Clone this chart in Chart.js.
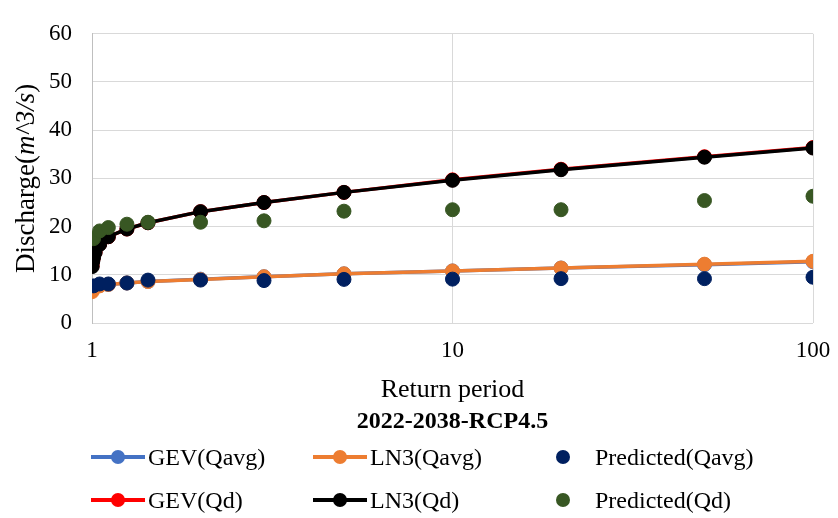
<!DOCTYPE html>
<html>
<head>
<meta charset="utf-8">
<script src="https://cdn.jsdelivr.net/npm/chart.js@4.4.1/dist/chart.umd.min.js"></script>
<style>
    html, body { margin: 0; padding: 0; background: #fff; }
    #wrap { position: relative; width: 838px; height: 518px; }
    #legend { position: absolute; left: 0; top: 0; width: 838px; height: 518px; pointer-events: none;
        font-family: 'Liberation Serif', 'Times New Roman', serif; font-size: 24px; color: #000; }
    .item { position: absolute; height: 30px; display: flex; align-items: center; white-space: nowrap; }
    .sym { position: relative; height: 30px; }
    .sym .ln { position: absolute; left: 0; right: 0; top: 13px; height: 4px; }
    .sym .dot { position: absolute; top: 8px; width: 14px; height: 14px; border-radius: 50%; }
</style>
</head>
<body>
<div id="wrap">
    <canvas id="myChart" width="838" height="518"></canvas>
    <div id="legend"></div>
</div>
<script>
const family = "'Liberation Serif', 'Times New Roman', serif";

// return periods
const rpCurve = [1.001, 1.005, 1.01, 1.02, 1.05, 1.11, 1.25, 1.43, 2, 3, 5, 10, 20, 50, 100];
const rpPred = [1.01, 1.05, 1.11, 1.25, 1.43, 2, 3, 5, 10, 20, 50, 100];

// discharge values
const gevQavg = [6.8, 7.1, 7.3, 7.5, 7.8, 8.0, 8.3, 8.6, 9.1, 9.6, 10.2, 10.8, 11.4, 12.1, 12.7];
const ln3Qavg = [6.5, 6.9, 7.2, 7.4, 7.7, 8.0, 8.3, 8.6, 9.0, 9.6, 10.2, 10.8, 11.4, 12.2, 12.8];
const predQavg = [7.7, 8.1, 8.1, 8.3, 8.9, 8.9, 8.8, 9.05, 9.1, 9.2, 9.2, 9.5];
const gevQd = [11.9, 13.0, 13.7, 14.7, 16.4, 17.9, 19.5, 20.8, 23.1, 25.0, 27.1, 29.7, 31.9, 34.5, 36.4];
const ln3Qd = [11.7, 12.8, 13.6, 14.6, 16.3, 17.9, 19.5, 20.8, 23.1, 25.0, 27.1, 29.6, 31.8, 34.4, 36.3];
const predQd = [17.5, 19.1, 19.8, 20.5, 20.9, 20.9, 21.2, 23.2, 23.5, 23.5, 25.4, 26.3];

const xTicks = [1, 10, 100];
const chartTitle = '2022-2038-RCP4.5';

function pts(xs, ys) {
    return xs.map(function (x, k) { return { x: x, y: ys[k] }; });
}

function curve(label, xs, ys, color, order) {
    return {
        type: 'line', label: label, data: pts(xs, ys), order: order,
        borderColor: color, backgroundColor: color, borderWidth: 3.5,
        pointRadius: 7, pointBorderWidth: 1, pointBackgroundColor: color, pointBorderColor: color,
        tension: 0
    };
}

function points(label, xs, ys, color, order) {
    return {
        type: 'scatter', label: label, data: pts(xs, ys), order: order, showLine: false,
        borderColor: color, backgroundColor: color,
        pointRadius: 7, pointBorderWidth: 1, pointBackgroundColor: color, pointBorderColor: color
    };
}

// legend order as in the picture, draw order via 'order'
const datasets = [
    curve('GEV(Qavg)', rpCurve, gevQavg, '#4472C4', 6),
    curve('LN3(Qavg)', rpCurve, ln3Qavg, '#ED7D31', 5),
    points('Predicted(Qavg)', rpPred, predQavg, '#002060', 2),
    curve('GEV(Qd)', rpCurve, gevQd, '#FF0000', 4),
    curve('LN3(Qd)', rpCurve, ln3Qd, '#000000', 3),
    points('Predicted(Qd)', rpPred, predQd, '#385723', 1)
];

// y title with italic unit part, and the bold title centred under the plot
const extraText = {
    id: 'extraText',
    afterDraw(chart) {
        const ctx = chart.ctx;
        const a = chart.chartArea;
        const parts = [['Discharge(', ''], ['m^3/s', 'italic '], [')', '']];
        ctx.save();
        ctx.translate(27, (a.top + a.bottom) / 2);
        ctx.rotate(-Math.PI / 2);
        ctx.textBaseline = 'middle';
        ctx.fillStyle = '#000';
        let total = 0;
        for (let p of parts) {
            ctx.font = p[1] + '27px ' + family;
            total += ctx.measureText(p[0]).width;
        }
        let x = -total / 2;
        for (let p of parts) {
            ctx.font = p[1] + '27px ' + family;
            ctx.fillText(p[0], x, 0);
            x += ctx.measureText(p[0]).width;
        }
        ctx.restore();

        ctx.save();
        ctx.font = 'bold 24px ' + family;
        ctx.fillStyle = '#000';
        ctx.textAlign = 'center';
        ctx.textBaseline = 'middle';
        ctx.fillText(chartTitle, (a.left + a.right) / 2, 422);
        ctx.restore();
    }
};

const ctx = document.getElementById('myChart').getContext('2d');
const myChart = new Chart(ctx, {
    type: 'line',
    data: { datasets: datasets },
    options: {
        responsive: false,
        animation: false,
        layout: { padding: { top: 16, right: 25, bottom: 109, left: 0 } },
        plugins: {
            legend: { display: false },
            tooltip: { enabled: false },
            title: { display: false }
        },
        scales: {
            x: {
                type: 'logarithmic', min: 1, max: 100,
                afterBuildTicks: function (s) { s.ticks = xTicks.map(function (v) { return { value: v }; }); },
                afterFit: function (s) { s.height = 86; s.paddingLeft = 0; s.paddingRight = 0; },
                grid: { color: '#d9d9d9', drawTicks: false },
                border: { display: false },
                ticks: {
                    padding: 14, color: '#000', maxRotation: 0, autoSkip: false,
                    font: { family: family, size: 23 },
                    callback: function (v) { return String(v); }
                },
                title: {
                    display: true, text: 'Return period', color: '#000',
                    font: { family: family, size: 26 }, padding: { top: 0, bottom: 3 }
                }
            },
            y: {
                min: 0, max: 60,
                afterFit: function (s) { s.width = 92; },
                grid: { color: '#d9d9d9', drawTicks: false },
                border: { color: '#bfbfbf' },
                ticks: { stepSize: 10, padding: 20, color: '#000', font: { family: family, size: 23 } }
            }
        }
    },
    plugins: [extraText]
});

// legend laid out in three columns, two rows
const legendCols = [91, 313, 549];
const legendRows = [457, 500];
const legend = document.getElementById('legend');
datasets.forEach(function (ds, k) {
    const item = document.createElement('div');
    item.className = 'item';
    item.style.left = legendCols[k % 3] + 'px';
    item.style.top = (legendRows[Math.floor(k / 3)] - 15) + 'px';
    const sym = document.createElement('div');
    sym.className = 'sym';
    const dot = document.createElement('div');
    dot.className = 'dot';
    dot.style.background = ds.borderColor;
    if (ds.type === 'line') {
        sym.style.width = '54px';
        const ln = document.createElement('div');
        ln.className = 'ln';
        ln.style.background = ds.borderColor;
        sym.appendChild(ln);
        dot.style.left = '20px';
    } else {
        sym.style.width = '28px';
        sym.style.marginRight = '15px';
        dot.style.left = '7px';
    }
    sym.appendChild(dot);
    const txt = document.createElement('span');
    txt.style.marginLeft = '3px';
    txt.textContent = ds.label;
    item.appendChild(sym);
    item.appendChild(txt);
    legend.appendChild(item);
});
</script>
</body>
</html>
